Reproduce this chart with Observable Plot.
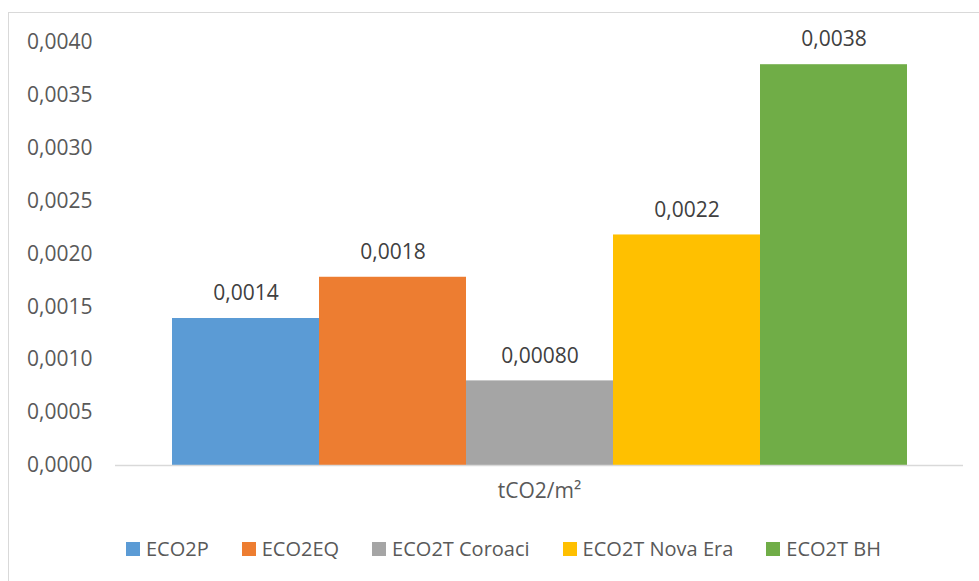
<!DOCTYPE html>
<html>
<head>
<meta charset="utf-8">
<script src="https://cdn.jsdelivr.net/npm/d3@7"></script>
<script src="https://cdn.jsdelivr.net/npm/@observablehq/plot@0.6"></script>
<style>
  html, body { margin: 0; padding: 0; background: #fff; }
  #wrap { position: relative; width: 979px; height: 581px; overflow: hidden; font-family: "Open Sans", sans-serif; }
  #border { position: absolute; left: 8px; top: 12px; width: 1000px; height: 600px; border: 1px solid #d9d9d9; box-sizing: border-box; }
  #chart { position: absolute; left: 0; top: 0; }
  #legend { position: absolute; left: 126px; top: 537px; display: flex; gap: 33px; font-size: 20px; color: #595959; line-height: 24px; }
  .item { display: flex; align-items: center; gap: 6px; white-space: nowrap; }
  .sw { width: 14px; height: 14px; display: inline-block; }
</style>
</head>
<body>
<div id="wrap">
  <div id="border"></div>
  <div id="chart"></div>
  <div id="legend"></div>
</div>
<script>
const category = "tCO2/m²";
const series = ["ECO2P", "ECO2EQ", "ECO2T Coroaci", "ECO2T Nova Era", "ECO2T BH"];
const values = [0.00139, 0.00178, 0.00080, 0.00218, 0.00379];
const valueLabels = ["0,0014", "0,0018", "0,00080", "0,0022", "0,0038"];
const colors = ["#5B9BD5", "#ED7D31", "#A5A5A5", "#FFC000", "#70AD47"];
const yTicks = [0, 0.0005, 0.001, 0.0015, 0.002, 0.0025, 0.003, 0.0035, 0.004];

const data = series.map((s, i) => ({category, series: s, value: values[i], label: valueLabels[i]}));

const plot = Plot.plot({
  width: 979,
  height: 520,
  marginLeft: 115,
  marginRight: 16,
  marginTop: 42,
  marginBottom: 55,
  style: {fontFamily: "Open Sans, sans-serif", fontSize: "21px", color: "#595959", background: "transparent"},
  fx: {domain: [category], padding: 0, label: null, axis: "bottom", tickSize: 0, tickPadding: 18},
  x: {domain: series, paddingInner: 0, paddingOuter: 0.377, axis: null},
  y: {domain: [0, 0.004], ticks: yTicks, tickFormat: d => d.toFixed(4).replace(".", ","), label: null, tickSize: 0, tickPadding: 23},
  color: {domain: series, range: colors},
  marks: [
    Plot.barY(data, {fx: "category", x: "series", y: "value", fill: "series"}),
    Plot.ruleY([0], {stroke: "#d9d9d9", strokeWidth: 1.5}),
    Plot.text(data, {fx: "category", x: "series", y: "value", text: "label", dy: -25, fill: "#404040", fontSize: 21})
  ]
});
document.getElementById("chart").appendChild(plot);

const legend = document.getElementById("legend");
series.forEach((s, i) => {
  const it = document.createElement("div");
  it.className = "item";
  const sw = document.createElement("span");
  sw.className = "sw";
  sw.style.background = colors[i];
  const tx = document.createElement("span");
  tx.textContent = s;
  it.appendChild(sw);
  it.appendChild(tx);
  legend.appendChild(it);
});
</script>
</body>
</html>
